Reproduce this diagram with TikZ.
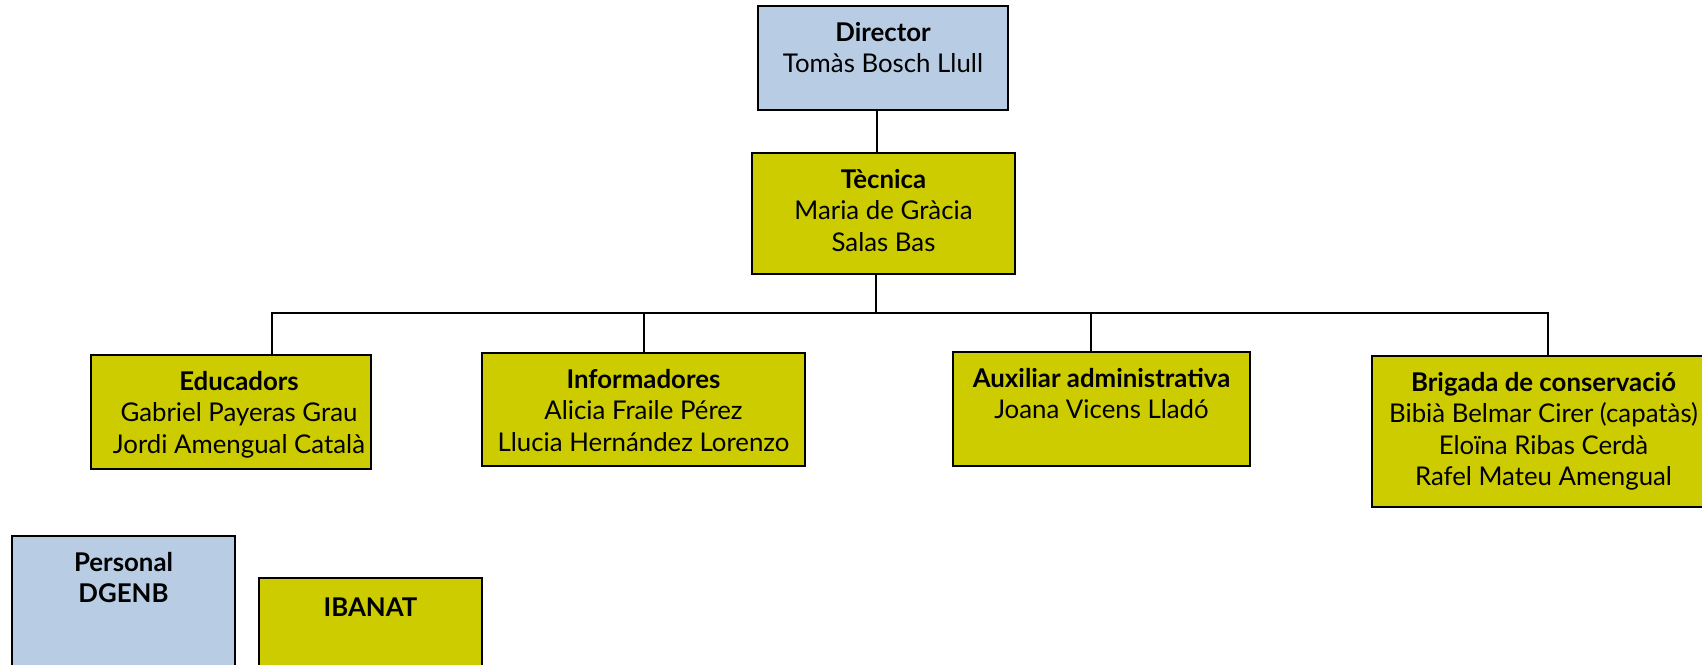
\documentclass[tikz,border=0pt]{standalone}
\usepackage{fontspec}
\setmainfont{Lato}
\usepackage{tikz}
\definecolor{blaucel}{RGB}{184,204,228}
\definecolor{groc}{RGB}{204,204,0}

\begin{document}
\begin{tikzpicture}[x=1pt, y=-1pt,
    caixa/.style={draw=black, line width=2.2pt, rectangle, inner sep=0pt},
    blava/.style={caixa, fill=blaucel},
    groga/.style={caixa, fill=groc},
    rotul/.style={anchor=north, align=center, inner sep=0pt,
        font=\fontsize{25.8}{31.5}\selectfont, execute at begin node={\rule{0pt}{22pt}}},
    linia/.style={line width=2pt}]
        \clip (0,0) rectangle (1702,664);

        % Director
        \node[blava, minimum width=250pt, minimum height=104pt] (dir) at (883,58) {};
        \node[rotul] (dirT) at ([yshift=-17pt]dir.north) {{\bfseries Director}\\Tomàs Bosch Llull};

        % Tecnica
        \node[groga, minimum width=263pt, minimum height=121pt] (tec) at (883.5,213.5) {};
        \node[rotul] (tecT) at ([yshift=-17pt]tec.north) {{\bfseries Tècnica}\\Maria de Gràcia\\Salas Bas};

        % Equips
        \node[groga, minimum width=280pt, minimum height=114pt] (edu) at (231,412) {};
        \node[rotul] (eduT) at ([xshift=8pt, yshift=-17pt]edu.north) {{\bfseries Educadors}\\Gabriel Payeras Grau\\Jordi Amengual Català};

        \node[groga, minimum width=323pt, minimum height=113pt] (inf) at (643.5,409.5) {};
        \node[rotul] (infT) at ([yshift=-17pt]inf.north) {{\bfseries Informadores}\\Alicia Fraile Pérez\\Llucia Hernández Lorenzo};

        \node[groga, minimum width=297pt, minimum height=114pt] (aux) at (1101.5,409) {};
        \node[rotul] (auxT) at ([yshift=-17pt]aux.north) {{\bfseries Auxiliar administrativa}\\Joana Vicens Lladó};

        \node[groga, minimum width=331pt, minimum height=151pt] (bri) at (1537.5,431.5) {};
        \node[rotul] (briT) at ([xshift=6pt, yshift=-17pt]bri.north) {{\bfseries Brigada de conservació}\\Bibià Belmar Cirer (capatàs)\\Eloïna Ribas Cerdà\\Rafel Mateu Amengual};

        % Llegenda
        \node[blava, minimum width=223pt, minimum height=144pt] (per) at (123.5,608) {};
        \node[rotul] (perT) at ([yshift=-17pt]per.north) {\bfseries Personal\\\bfseries DGENB};
        \node[groga, minimum width=223pt, minimum height=122pt] (iba) at (370.5,639) {};
        \node[rotul] (ibaT) at ([yshift=-17pt]iba.north) {\bfseries IBANAT};

        % Connexions
        \coordinate (busL) at (272,313);
        \coordinate (busR) at (1548,313);
        \draw[linia] ([xshift=-6pt]dir.south) -- ([xshift=-6pt]dir.south |- tec.north);
        \draw[linia] ([xshift=-8pt]tec.south) -- ([xshift=-8pt]tec.south |- busL);
        \draw[linia] (busL |- edu.north) -- (busL) -- (busR) -- (busR |- bri.north);
        \draw[linia] (inf.north) -- (inf.north |- busL);
        \draw[linia] ([xshift=-11pt]aux.north) -- ([xshift=-11pt]aux.north |- busL);
\end{tikzpicture}
\end{document}
